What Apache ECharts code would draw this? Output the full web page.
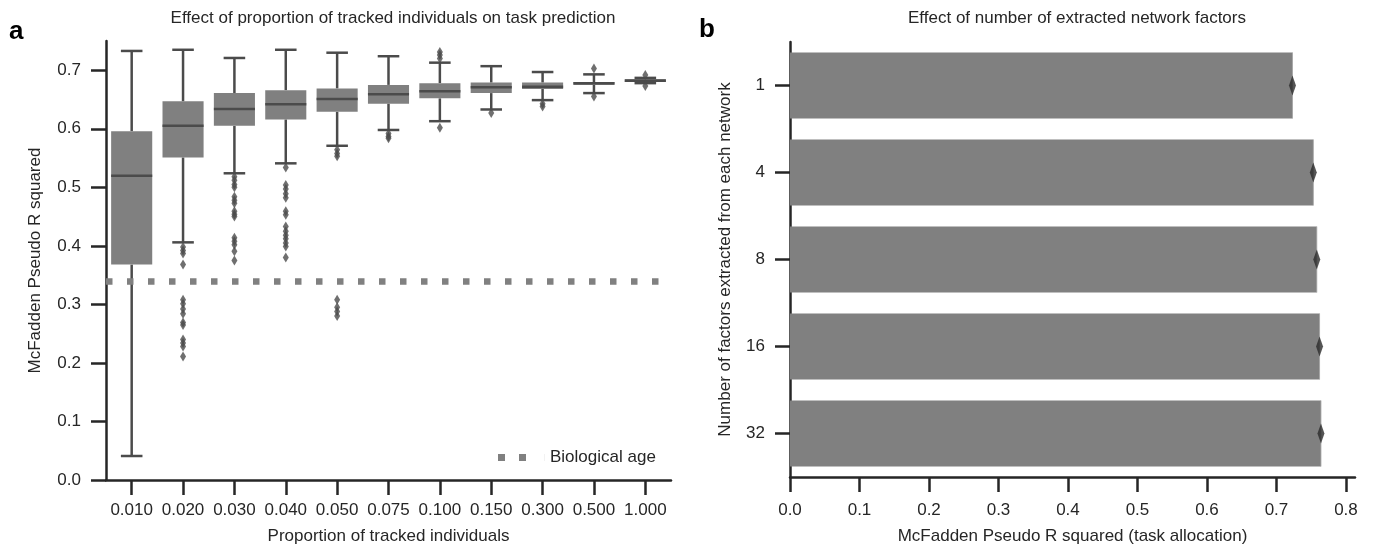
<!DOCTYPE html>
<html>
<head>
<meta charset="utf-8">
<title>Task prediction</title>
<script src="https://cdn.jsdelivr.net/npm/echarts@6/dist/echarts.min.js"></script>
<style>
  html, body { margin: 0; padding: 0; background: #fff; }
  #chart { width: 1375px; height: 550px; }
</style>
</head>
<body>
<div id="chart"></div>
<script>
// panel a : boxplots per proportion of tracked individuals
var proportions = ['0.010', '0.020', '0.030', '0.040', '0.050', '0.075', '0.100', '0.150', '0.300', '0.500', '1.000'];
var boxMin = [0.041, 0.406, 0.524, 0.541, 0.571, 0.598, 0.613, 0.633, 0.649, 0.661, 0.678];
var boxQ1  = [0.368, 0.551, 0.605, 0.616, 0.629, 0.643, 0.652, 0.661, 0.668, 0.675, 0.680];
var boxMed = [0.520, 0.605, 0.634, 0.642, 0.651, 0.659, 0.664, 0.671, 0.672, 0.678, 0.682];
var boxQ3  = [0.596, 0.647, 0.661, 0.666, 0.669, 0.675, 0.678, 0.679, 0.679, 0.680, 0.685];
var boxMax = [0.733, 0.735, 0.721, 0.735, 0.730, 0.724, 0.713, 0.707, 0.697, 0.693, 0.687];
var outliers = [
  [],
  [0.398, 0.392, 0.387, 0.368, 0.308, 0.301, 0.292, 0.284, 0.269, 0.265, 0.240, 0.234, 0.228, 0.211],
  [0.518, 0.512, 0.505, 0.500, 0.484, 0.478, 0.473, 0.459, 0.454, 0.450, 0.414, 0.408, 0.402, 0.391, 0.375],
  [0.534, 0.504, 0.497, 0.489, 0.482, 0.459, 0.453, 0.433, 0.425, 0.418, 0.412, 0.405, 0.399, 0.380],
  [0.564, 0.558, 0.553, 0.308, 0.295, 0.288, 0.280],
  [0.592, 0.587, 0.584],
  [0.731, 0.726, 0.720, 0.602],
  [0.627],
  [0.643, 0.638],
  [0.703, 0.655],
  [0.692, 0.673]
];
var biologicalAge = 0.343;
var yTicksA = [0, 0.1, 0.2, 0.3, 0.4, 0.5, 0.6, 0.7];

// panel b : bars per number of extracted factors
var factorCounts = ['1', '4', '8', '16', '32'];
var factorScores = [0.723, 0.753, 0.758, 0.762, 0.764];
var xTicksB = [0, 0.1, 0.2, 0.3, 0.4, 0.5, 0.6, 0.7, 0.8];

var FONT = 'Liberation Sans';
var FS = 17;
var INK = '#262626';
var BOX = '#808080';
var LINE = '#4b4b4b';

var boxData = proportions.map(function (p, i) {
  return [i, boxMin[i], boxQ1[i], boxMed[i], boxQ3[i], boxMax[i]];
});
var outlierData = [];
outliers.forEach(function (list, i) {
  list.forEach(function (v) { outlierData.push([i, v]); });
});
var ciData = factorScores.map(function (v, i) { return [v, i]; });

function renderBox(params, api) {
  var i = api.value(0);
  var band = api.size([1, 0])[0];
  var half = band * 0.4;
  var cap = band * 0.21;
  var x = api.coord([i, 0])[0];
  var yLo = api.coord([i, api.value(1)])[1];
  var yQ1 = api.coord([i, api.value(2)])[1];
  var yMd = api.coord([i, api.value(3)])[1];
  var yQ3 = api.coord([i, api.value(4)])[1];
  var yHi = api.coord([i, api.value(5)])[1];
  var ls = { stroke: LINE, lineWidth: 2.5 };
  return {
    type: 'group',
    children: [
      { type: 'line', shape: { x1: x, y1: yQ1, x2: x, y2: yLo }, style: ls },
      { type: 'line', shape: { x1: x, y1: yQ3, x2: x, y2: yHi }, style: ls },
      { type: 'rect', shape: { x: x - half, y: yQ3, width: half * 2, height: yQ1 - yQ3 }, style: { fill: BOX } },
      { type: 'line', shape: { x1: x - half, y1: yMd, x2: x + half, y2: yMd }, style: ls },
      { type: 'line', shape: { x1: x - cap, y1: yLo, x2: x + cap, y2: yLo }, style: ls },
      { type: 'line', shape: { x1: x - cap, y1: yHi, x2: x + cap, y2: yHi }, style: ls }
    ]
  };
}

var chart = echarts.init(document.getElementById('chart'));

var axisCommon = {
  axisLine: { show: true, lineStyle: { color: INK, width: 2.5 } },
  axisTick: { show: true, length: 15, lineStyle: { color: INK, width: 2.5 } },
  axisLabel: { show: true, color: INK, fontSize: FS, fontFamily: FONT },
  splitLine: { show: false },
  nameTextStyle: { color: INK, fontSize: FS, fontFamily: FONT }
};

var option = {
  animation: false,
  backgroundColor: '#fff',
  textStyle: { fontFamily: FONT },
  title: [
    { text: 'Effect of proportion of tracked individuals on task prediction', left: 388, top: 5, textAlign: 'center',
      textStyle: { fontSize: FS, fontWeight: 'normal', color: INK, fontFamily: FONT } },
    { text: 'Effect of number of extracted network factors', left: 1072, top: 5, textAlign: 'center',
      textStyle: { fontSize: FS, fontWeight: 'normal', color: INK, fontFamily: FONT } },
    { text: 'a', left: 4, top: 14, textStyle: { fontSize: 26, fontWeight: 'bold', color: '#000', fontFamily: FONT } },
    { text: 'b', left: 694, top: 12, textStyle: { fontSize: 26, fontWeight: 'bold', color: '#000', fontFamily: FONT } }
  ],
  legend: {
    data: ['Biological age'],
    left: 493, top: 444,
    icon: 'path://M0,0h7v7h-7z M21,0h7v7h-7z M46.9,0h0.1v7h-0.1z',
    itemWidth: 47, itemHeight: 7,
    textStyle: { color: INK, fontSize: FS, fontFamily: FONT }
  },
  grid: [
    { left: 106, top: 41, width: 565, height: 440 },
    { left: 790, top: 42, width: 565, height: 436 }
  ],
  xAxis: [
    echarts.util.merge({
      gridIndex: 0, type: 'category', data: proportions,
      name: 'Proportion of tracked individuals', nameLocation: 'middle', nameGap: 48,
      axisTick: { alignWithLabel: true, interval: 0 },
      axisLabel: { margin: 22, interval: 0 }
    }, axisCommon),
    echarts.util.merge({
      gridIndex: 1, type: 'value', min: 0, max: 0.813,
      name: 'McFadden Pseudo R squared (task allocation)', nameLocation: 'middle', nameGap: 51,
      axisTick: { customValues: xTicksB },
      axisLabel: { margin: 25, customValues: xTicksB, formatter: function (v) { return v.toFixed(1); } }
    }, axisCommon)
  ],
  yAxis: [
    echarts.util.merge({
      gridIndex: 0, type: 'value', min: 0, max: 0.75,
      name: 'McFadden Pseudo R squared', nameLocation: 'middle', nameGap: 62,
      axisTick: { customValues: yTicksA },
      axisLabel: { margin: 25, customValues: yTicksA, formatter: function (v) { return v.toFixed(1); } }
    }, axisCommon),
    echarts.util.merge({
      gridIndex: 1, type: 'category', data: factorCounts, inverse: true,
      name: 'Number of factors extracted from each network', nameLocation: 'middle', nameGap: 56,
      axisTick: { alignWithLabel: true, interval: 0 },
      axisLabel: { margin: 25, interval: 0 }
    }, axisCommon)
  ],
  series: [
    {
      type: 'custom', xAxisIndex: 0, yAxisIndex: 0,
      data: boxData, renderItem: renderBox,
      encode: { x: 0, y: [1, 2, 3, 4, 5] }, z: 3
    },
    {
      type: 'scatter', xAxisIndex: 0, yAxisIndex: 0,
      data: outlierData, symbol: 'diamond', symbolSize: [6, 10],
      itemStyle: { color: LINE }, z: 4
    },
    {
      name: 'Biological age', type: 'line', xAxisIndex: 0, yAxisIndex: 0,
      data: [], itemStyle: { color: BOX }, lineStyle: { color: BOX },
      markLine: {
        silent: true, symbol: 'none', label: { show: false },
        lineStyle: { color: BOX, width: 6.5, type: [6.5, 14.5], cap: 'butt' },
        data: [{ yAxis: biologicalAge }]
      },
      z: 2
    },
    {
      type: 'bar', xAxisIndex: 1, yAxisIndex: 1,
      data: factorScores, barCategoryGap: '24%',
      itemStyle: { color: BOX }
    },
    {
      type: 'scatter', xAxisIndex: 1, yAxisIndex: 1,
      data: ciData, symbol: 'rect', symbolSize: [1, 66],
      itemStyle: { color: '#a0a0a0' }, z: 4
    },
    {
      type: 'scatter', xAxisIndex: 1, yAxisIndex: 1,
      data: ciData, symbol: 'diamond', symbolSize: [7, 20],
      itemStyle: { color: '#2a2a2a' }, z: 5
    }
  ]
};

chart.setOption(option);
</script>
</body>
</html>
